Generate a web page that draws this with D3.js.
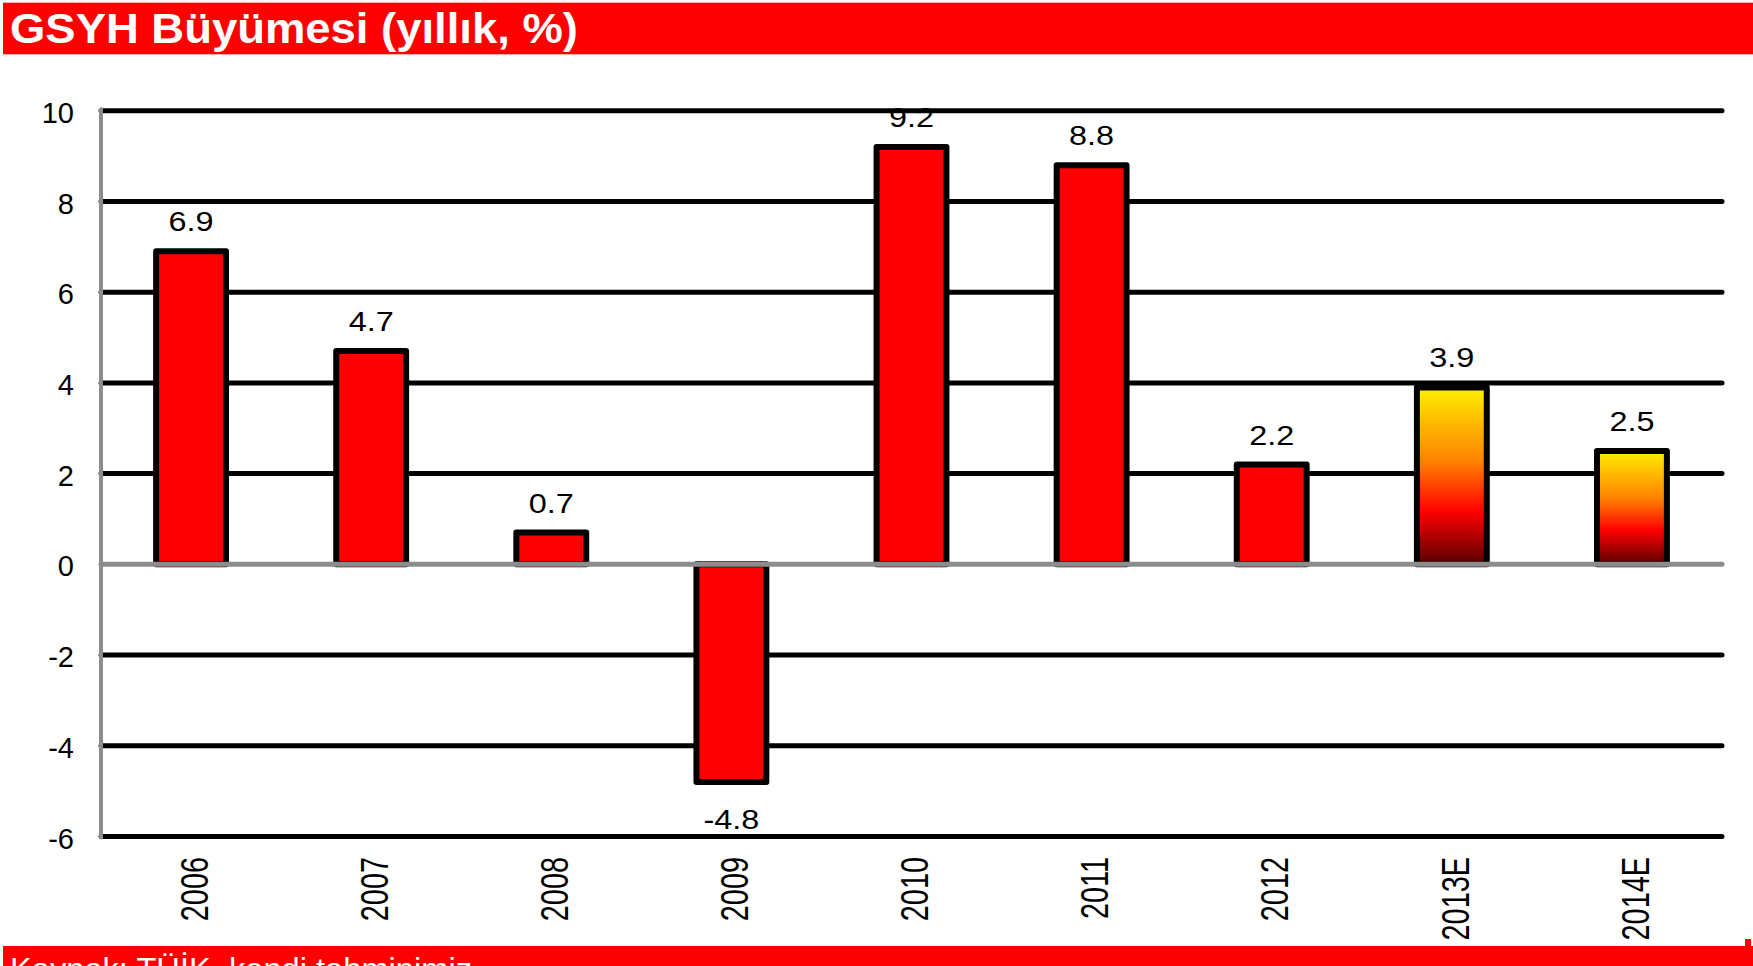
<!DOCTYPE html>
<html>
<head>
<meta charset="utf-8">
<script src="https://cdn.jsdelivr.net/npm/d3@7"></script>
<style>
  html, body { margin: 0; padding: 0; background: #fff; overflow: hidden; }
  svg { display: block; font-family: "Liberation Sans", Arial, sans-serif; }
</style>
</head>
<body>
<svg id="chart" width="1753" height="966"></svg>
<script>
// ---- data ----
const categories = ["2006", "2007", "2008", "2009", "2010", "2011", "2012", "2013E", "2014E"];
const growth = [6.9, 4.7, 0.7, -4.8, 9.2, 8.8, 2.2, 3.9, 2.5];
const isForecast = [false, false, false, false, false, false, false, true, true];
const yTicks = [-6, -4, -2, 0, 2, 4, 6, 8, 10];
const titleText = "GSYH Büyümesi (yıllık, %)";
const sourceText = "Kaynak: TÜİK, kendi tahminimiz";

const svg = d3.select("#chart");
const W = 1753, H = 966;
const hyph = s => s.replace("\u2212", "-");

// gradient for forecast bars
const defs = svg.append("defs");
const grad = defs.append("linearGradient")
  .attr("id", "fcGrad").attr("x1", 0).attr("y1", 0).attr("x2", 0).attr("y2", 1);
[[0, "#FFF000"], [0.22, "#FFB400"], [0.42, "#FF8200"], [0.7, "#FF0000"], [1, "#5A0000"]]
  .forEach(([o, c]) => grad.append("stop").attr("offset", o).attr("stop-color", c));

// title band
svg.append("rect").attr("x", 3).attr("y", 2.7).attr("width", W - 3).attr("height", 51.6).attr("fill", "#FF0000");
svg.append("text").attr("x", 10).attr("y", 43.3)
  .attr("fill", "#fff").attr("font-weight", "bold").attr("font-size", 42)
  .attr("textLength", 568).attr("lengthAdjust", "spacingAndGlyphs")
  .text(titleText);

// footer band
svg.append("rect").attr("x", 3).attr("y", 946).attr("width", W - 3).attr("height", 20).attr("fill", "#FF0000");
svg.append("rect").attr("x", 1745).attr("y", 939).attr("width", 6).attr("height", 8).attr("fill", "#FF0000");
svg.append("text").attr("x", 10).attr("y", 979.6)
  .attr("fill", "#fff").attr("font-size", 32)
  .attr("textLength", 462).attr("lengthAdjust", "spacingAndGlyphs")
  .text(sourceText);

// scales
const left = 101, right = 1722;
const x = d3.scaleBand().domain(categories).range([left, right])
  .paddingInner(0.612).paddingOuter(0.306);
const y = d3.scaleLinear().domain([-6, 10]).range([836.5, 110.7]);

// gridlines (non-zero)
svg.append("g").selectAll("line").data(yTicks.filter(d => d !== 0)).join("line")
  .attr("x1", left).attr("x2", right)
  .attr("y1", d => y(d)).attr("y2", d => y(d))
  .attr("stroke", "#000").attr("stroke-width", 5).attr("stroke-linecap", "round");

// y axis labels
const yAxis = d3.axisLeft(y).tickValues(yTicks).tickSize(0).tickPadding(0)
  .tickFormat(d => hyph(d3.format("d")(d)));
const gy = svg.append("g").attr("transform", "translate(74,0)").call(yAxis);
gy.select(".domain").remove();
gy.selectAll("text").attr("font-size", 29).attr("fill", "#000")
  .attr("font-family", "'Liberation Sans', Arial, sans-serif").attr("dy", "0.4em");

// bars
const data = categories.map((c, i) => ({ c, v: growth[i], f: isForecast[i] }));
svg.append("g").selectAll("rect").data(data).join("rect")
  .attr("x", d => x(d.c))
  .attr("width", x.bandwidth())
  .attr("y", d => y(Math.max(0, d.v)))
  .attr("height", d => Math.abs(y(d.v) - y(0)))
  .attr("fill", d => d.f ? "url(#fcGrad)" : "#FF0000")
  .attr("stroke", "#000").attr("stroke-width", 6).attr("stroke-linejoin", "round");

// zero line
svg.append("line").attr("x1", left).attr("x2", right).attr("y1", y(0)).attr("y2", y(0))
  .attr("stroke", "#8c8c8c").attr("stroke-width", 5).attr("stroke-linecap", "round");

// y axis line
svg.append("line").attr("x1", left).attr("x2", left).attr("y1", y(10) - 1.5).attr("y2", y(-6) + 1)
  .attr("stroke", "#8c8c8c").attr("stroke-width", 4).attr("stroke-linecap", "round");

// value labels
svg.append("g").selectAll("text").data(data).join("text")
  .attr("transform", d => {
    const cx = x(d.c) + x.bandwidth() / 2;
    const by = d.v >= 0 ? y(d.v) - 20 : y(d.v) + 47;
    return `translate(${cx},${by}) scale(1.2,1)`;
  })
  .attr("text-anchor", "middle").attr("font-size", 27).attr("fill", "#000")
  .text(d => hyph(d3.format(".1f")(d.v)));

// x labels (rotated, condensed)
svg.append("g").selectAll("text").data(categories).join("text")
  .attr("transform", d => `translate(${x(d) + x.bandwidth() / 2 + 3},857) rotate(-90) scale(0.76,1)`)
  .attr("text-anchor", "end").attr("dy", "0.36em")
  .attr("font-size", 38).attr("fill", "#000")
  .text(d => d);
</script>
</body>
</html>
